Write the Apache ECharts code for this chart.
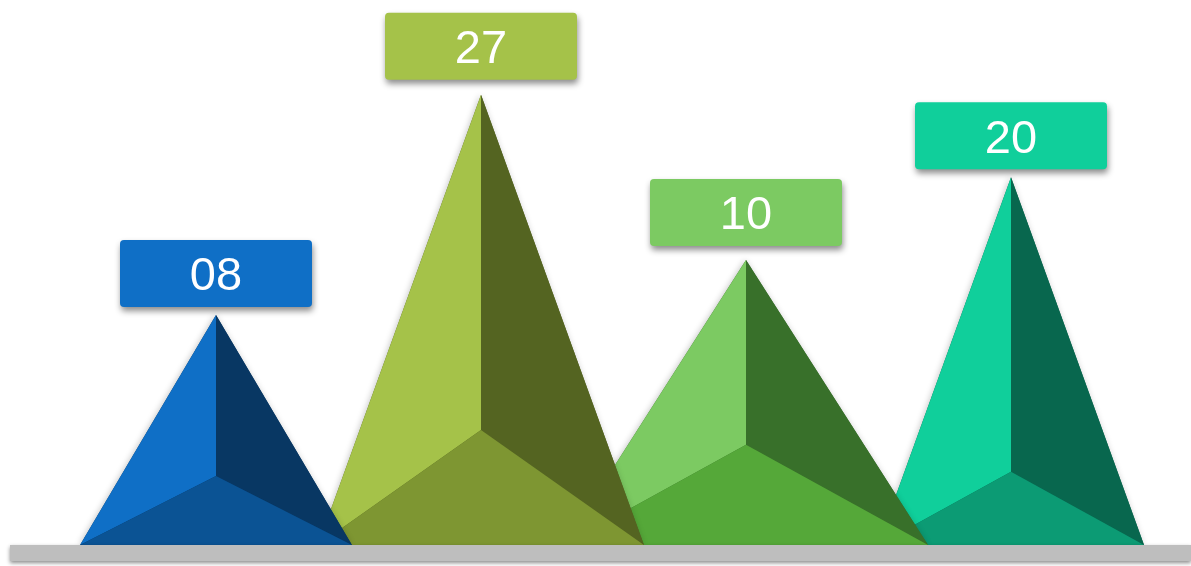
<!DOCTYPE html>
<html>
<head>
<meta charset="utf-8">
<script src="https://cdn.jsdelivr.net/npm/echarts@6/dist/echarts.min.js"></script>
<style>
html,body{margin:0;padding:0;background:#ffffff;}
#chart{width:1191px;height:566px;}
</style>
</head>
<body>
<div id="chart"></div>
<script>
// ---- data ----
const categories = ['Item 1', 'Item 2', 'Item 3', 'Item 4'];
const values = [8, 27, 10, 20];              // label values
const peakLevels = [42.2, 82.6, 52.3, 67.5]; // peak height on hidden y axis (0-100)

// ---- styles ----
const faceColors = [
  { left: '#0F6FC6', right: '#083763', bottom: '#0B5394' },
  { left: '#A5C249', right: '#546421', bottom: '#7E9632' },
  { left: '#7CCA62', right: '#38702A', bottom: '#55A839' },
  { left: '#10CF9B', right: '#08674E', bottom: '#0C9B74' }
];
const shapeStyle = [
  { halfWidth: 0.513, depth: 0.507, gap: 8 },
  { halfWidth: 0.615, depth: 0.705, gap: 15 },
  { halfWidth: 0.687, depth: 0.55, gap: 14 },
  { halfWidth: 0.502, depth: 0.55, gap: 8 }
];
const FONT = '47px "Liberation Sans", Arial, sans-serif';

const chart = echarts.init(document.getElementById('chart'));

function renderItem(params, api) {
  const i = params.dataIndex;
  const peak = api.coord([api.value(0), api.value(1)]);
  const base = api.coord([api.value(0), 0]);
  const band = api.size([1, 0])[0];
  const st = shapeStyle[i];
  const c = faceColors[i];
  const hw = band * st.halfWidth;
  const depth = hw * st.depth;
  const L = [base[0] - hw, base[1]];
  const R = [base[0] + hw, base[1]];
  const P = [peak[0], peak[1]];
  const I = [base[0], base[1] - depth];
  const z = (categories.length - i) * 10;
  const boxW = 192, boxH = 67;
  const boxY = P[1] - st.gap - boxH;
  return {
    type: 'group',
    children: [
      { type: 'polygon', z2: z, shape: { points: [L, P, R] },
        style: { fill: c.right, shadowBlur: 6, shadowColor: 'rgba(0,0,0,0.22)', shadowOffsetX: -1 } },
      { type: 'polygon', z2: z + 1, shape: { points: [L, P, I] }, style: { fill: c.left } },
      { type: 'polygon', z2: z + 1, shape: { points: [I, P, R] }, style: { fill: c.right } },
      { type: 'polygon', z2: z + 2, shape: { points: [L, I, R] }, style: { fill: c.bottom } },
      { type: 'rect', z2: 200, shape: { x: P[0] - boxW / 2, y: boxY, width: boxW, height: boxH, r: 4 },
        style: { fill: c.left, shadowBlur: 6, shadowOffsetY: 4, shadowOffsetX: 1, shadowColor: 'rgba(0,0,0,0.45)' } },
      { type: 'text', z2: 201,
        style: { text: String(api.value(2)).padStart(2, '0'), x: P[0], y: boxY + boxH / 2 + 4,
          align: 'center', verticalAlign: 'middle', fill: '#ffffff', font: FONT } }
    ]
  };
}

chart.setOption({
  animation: false,
  backgroundColor: '#ffffff',
  grid: { left: 83.5, right: 47.5, top: 0, bottom: 21 },
  xAxis: { type: 'category', data: categories, boundaryGap: true, show: false },
  yAxis: { type: 'value', min: 0, max: 100, show: false },
  graphic: [{
    type: 'rect', z: 100,
    shape: { x: 10, y: 545, width: 1181, height: 16 },
    style: { fill: '#bebebe', shadowBlur: 4, shadowOffsetY: 2, shadowColor: 'rgba(0,0,0,0.45)' }
  }],
  series: [{
    type: 'custom',
    renderItem: renderItem,
    encode: { x: 0, y: 1 },
    data: categories.map((c, i) => [i, peakLevels[i], values[i]])
  }]
});
</script>
</body>
</html>
